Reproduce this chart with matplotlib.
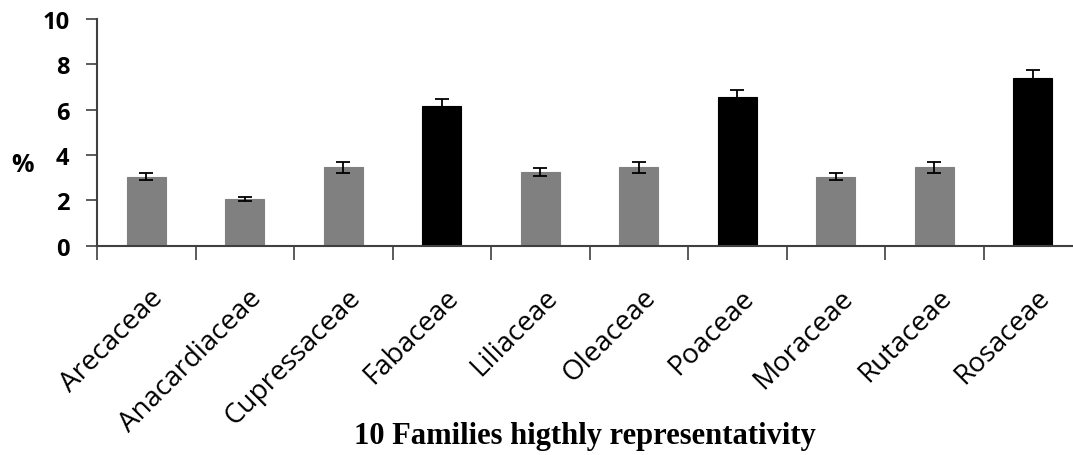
import matplotlib.pyplot as plt
import numpy as np

# values
families = ['Arecaceae', 'Anacardiaceae', 'Cupressaceae', 'Fabaceae', 'Liliaceae',
            'Oleaceae', 'Poaceae', 'Moraceae', 'Rutaceae', 'Rosaceae']
percent = [3.05, 2.05, 3.45, 6.15, 3.25, 3.45, 6.55, 3.05, 3.45, 7.4]
errors = [0.15, 0.1, 0.25, 0.33, 0.17, 0.25, 0.33, 0.15, 0.25, 0.33]
highlight = [False, False, False, True, False, False, True, False, False, True]

colors = ['black' if h else '#808080' for h in highlight]
x = np.arange(len(families))

fig = plt.figure(figsize=(10.73, 4.56), dpi=100)
ax = fig.add_axes([97 / 1073, 1 - 246.7 / 456, 985 / 1073, 226.7 / 456])

ax.bar(x, percent, width=0.4, color=colors, edgecolor=colors, linewidth=0.8,
       yerr=errors, ecolor='black', capsize=5, error_kw={'elinewidth': 1.3, 'capthick': 1.3},
       zorder=2)

ax.set_xlim(-0.5, len(families) - 0.5)
ax.set_ylim(0, 10)
ax.set_yticks([0, 2, 4, 6, 8, 10])

for s in ['top', 'right']:
    ax.spines[s].set_visible(False)
for s in ['left', 'bottom']:
    ax.spines[s].set_color('#404040')
    ax.spines[s].set_linewidth(1.5)

ax.tick_params(axis='y', direction='out', length=8, width=1.2, color='#404040', pad=12)
for lab in ax.get_yticklabels():
    lab.set_fontfamily('Open Sans')
    lab.set_fontweight('bold')
    lab.set_fontsize(17)

# labels at the centres, ticks at the boundaries
ax.set_xticks(x + 0.03)
ax.set_xticklabels(families, rotation=45, ha='right', rotation_mode='anchor',
                   fontfamily='Open Sans', fontsize=20)
ax.tick_params(axis='x', which='major', length=0, pad=27)
ax.set_xticks(np.arange(len(families)) - 0.5, minor=True)
ax.tick_params(axis='x', which='minor', direction='out', length=10, width=1.2, color='#404040')

fig.text(23 / 1073, 1 - 165 / 456, '%', ha='center', va='center',
         fontfamily='Open Sans', fontweight='bold', fontsize=18)
fig.text(585 / 1073, 1 - 437 / 456, '10 Families higthly representativity', ha='center', va='center',
         fontfamily='Liberation Serif', fontweight='bold', fontsize=22)

fig.savefig('out.png', dpi=100)
